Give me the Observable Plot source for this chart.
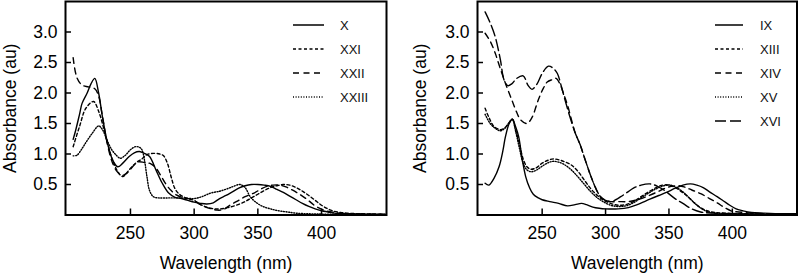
<!DOCTYPE html>
<html><head><meta charset="utf-8">
<script src="https://cdn.jsdelivr.net/npm/d3@7"></script>
<script src="https://cdn.jsdelivr.net/npm/@observablehq/plot@0.6"></script>
<style>
body{margin:0;background:#fff;}
#wrap{position:relative;width:799px;height:273px;display:flex;}
.panel{position:relative;}
.legend{position:absolute;left:0;top:0;pointer-events:none;}
</style></head>
<body><div id="wrap"></div>
<script>
// ---------- data (wavelength nm, absorbance au) ----------
const xTicks = [250, 300, 350, 400];
const yTicks = [0.5, 1.0, 1.5, 2.0, 2.5, 3.0];
const xLabel = "Wavelength (nm)";
const yLabel = "Absorbance (au)";

// left panel
const leftNames = ["X", "XXI", "XXII", "XXIII"];
const X = [[205,1.24],[207,1.39],[210,1.65],[212,1.83],[216,2.0],[219,2.15],[222,2.24],[225,2.0],[228,1.61],[232,1.18],[236,0.9],[240,0.79],[244,0.85],[249,0.96],[253,1.02],[257,1.04],[261,1.01],[265,0.96],[270,0.74],[275,0.52],[280,0.36],[285,0.29],[290,0.27],[295,0.24],[300,0.21],[305,0.19],[310,0.18],[315,0.2],[320,0.27],[325,0.32],[330,0.38],[335,0.44],[340,0.48],[345,0.5],[350,0.5],[355,0.49],[360,0.47],[365,0.42],[370,0.37],[375,0.31],[380,0.25],[385,0.19],[390,0.14],[395,0.1],[400,0.07],[405,0.05],[410,0.03],[420,0.02],[435,0.015],[450,0.01]];
const XXI = [[205,1.12],[210,1.45],[215,1.75],[221,1.86],[225,1.7],[228,1.5],[231,1.25],[236,0.9],[241,0.68],[244,0.63],[249,0.74],[254,0.85],[259,0.92],[263,0.99],[268,1.01],[273,1.0],[276,0.97],[279,0.85],[282,0.62],[285,0.43],[289,0.33],[295,0.27],[300,0.24],[305,0.17],[313,0.11],[320,0.1],[326,0.12],[333,0.16],[340,0.22],[345,0.28],[350,0.34],[355,0.4],[360,0.45],[365,0.48],[370,0.5],[375,0.49],[380,0.45],[385,0.39],[390,0.32],[395,0.24],[400,0.16],[405,0.1],[410,0.06],[415,0.04],[420,0.03],[430,0.02],[450,0.01]];
const XXII = [[205,2.58],[208,2.25],[212,2.13],[217,2.1],[222,2.07],[225,1.95],[228,1.62],[232,1.15],[236,0.85],[240,0.7],[244,0.65],[248,0.7],[252,0.8],[256,0.87],[261,0.86],[266,0.84],[270,0.77],[274,0.64],[278,0.5],[282,0.4],[286,0.33],[292,0.28],[299,0.25],[305,0.17],[312,0.11],[318,0.08],[323,0.09],[328,0.16],[335,0.24],[340,0.3],[347,0.36],[352,0.42],[357,0.47],[362,0.49],[367,0.49],[372,0.46],[377,0.41],[382,0.35],[389,0.25],[395,0.15],[402,0.08],[408,0.05],[415,0.03],[425,0.02],[450,0.01]];
const XXIII = [[205,0.97],[208,0.98],[212,1.09],[216,1.22],[220,1.34],[225,1.46],[228,1.4],[231,1.26],[235,1.08],[238,1.0],[242,0.93],[246,0.98],[250,1.07],[254,1.12],[257,1.11],[259,1.07],[261,0.9],[263,0.62],[265,0.4],[268,0.3],[272,0.28],[280,0.28],[290,0.28],[300,0.27],[306,0.3],[313,0.36],[320,0.39],[326,0.43],[331,0.47],[336,0.5],[340,0.45],[344,0.3],[349,0.2],[354,0.14],[360,0.1],[366,0.07],[373,0.05],[380,0.03],[390,0.02],[400,0.015],[450,0.01]];

// right panel
const rightNames = ["IX", "XIII", "XIV", "XV", "XVI"];
const IX = [[205,0.52],[208,0.49],[212,0.6],[216,0.79],[219,1.05],[221,1.28],[224,1.5],[226.5,1.57],[229,1.45],[231.5,1.28],[234,0.95],[237,0.63],[240,0.45],[243,0.34],[247,0.28],[250,0.25],[256,0.22],[263,0.19],[270,0.15],[276,0.17],[281,0.19],[285,0.17],[290,0.13],[295,0.11],[300,0.1],[310,0.1],[318,0.12],[325,0.17],[335,0.26],[342,0.32],[348,0.37],[355,0.44],[361,0.49],[367,0.51],[372,0.49],[377,0.45],[382,0.38],[388,0.3],[393,0.23],[398,0.16],[403,0.1],[408,0.07],[415,0.04],[425,0.03],[440,0.02],[450,0.02]];
const XIII = [[205,1.75],[208,1.6],[212,1.45],[217,1.4],[220,1.42],[223.5,1.5],[226.5,1.57],[229,1.4],[232,1.17],[235,0.92],[238,0.79],[241,0.75],[245,0.77],[250,0.85],[255,0.9],[259,0.92],[264,0.9],[268,0.87],[273,0.82],[278,0.72],[283,0.58],[288,0.44],[293,0.33],[298,0.25],[304,0.19],[310,0.16],[316,0.17],[322,0.22],[328,0.3],[334,0.38],[340,0.45],[345,0.49],[350,0.49],[355,0.45],[360,0.38],[365,0.3],[370,0.2],[375,0.12],[380,0.07],[386,0.04],[395,0.03],[410,0.02],[450,0.02]];
const XIV = [[205,2.98],[209,2.85],[213,2.65],[217,2.4],[221,2.16],[226,1.89],[230,1.68],[233,1.56],[238,1.5],[242,1.6],[247,1.89],[251,2.08],[254,2.18],[258,2.22],[261,2.24],[264,2.15],[267,1.98],[270,1.8],[273,1.57],[276,1.35],[280,1.15],[284,0.9],[288,0.66],[292,0.45],[296,0.3],[300,0.24],[304,0.22],[310,0.22],[318,0.22],[325,0.25],[332,0.3],[340,0.37],[346,0.43],[352,0.47],[357,0.48],[362,0.46],[368,0.41],[375,0.35],[382,0.27],[388,0.2],[394,0.12],[400,0.06],[405,0.05],[415,0.03],[430,0.02],[450,0.02]];
const XV = [[205,1.65],[209,1.5],[213,1.42],[217,1.38],[221,1.43],[224,1.52],[226.5,1.57],[229,1.38],[232,1.1],[235,0.85],[238,0.74],[241,0.71],[245,0.73],[250,0.8],[255,0.86],[259,0.88],[264,0.86],[268,0.82],[273,0.74],[278,0.63],[283,0.51],[288,0.39],[293,0.29],[298,0.22],[304,0.16],[310,0.14],[316,0.15],[322,0.2],[328,0.28],[334,0.36],[340,0.43],[346,0.48],[351,0.49],[356,0.45],[361,0.38],[366,0.28],[371,0.18],[376,0.1],[381,0.05],[388,0.03],[400,0.02],[450,0.01]];
const XVI = [[205,3.33],[209,3.15],[213,2.92],[217,2.55],[220,2.21],[223,2.12],[226,2.15],[230,2.24],[235,2.28],[239,2.12],[242,2.06],[246,2.15],[250,2.32],[255,2.44],[259,2.4],[262,2.32],[265,2.12],[268,1.89],[272,1.6],[276,1.35],[280,1.15],[284,0.9],[288,0.66],[292,0.45],[296,0.3],[300,0.24],[304,0.22],[308,0.25],[312,0.3],[317,0.37],[322,0.44],[328,0.49],[335,0.51],[341,0.47],[348,0.38],[354,0.28],[361,0.19],[368,0.1],[375,0.05],[385,0.03],[400,0.02],[450,0.02]];

// ---------- styling ----------
const dashes = {
  X: null, XXI: "3,2.5", XXII: "6,4.5", XXIII: "1,1.6",
  IX: null, XIII: "3,2.5", XIV: "6,4.5", XV: "1,1.6", XVI: "11,4"
};
const FONT = "'Liberation Sans', Arial, Helvetica, sans-serif";
const X0 = 199, X1 = 451, Y0 = 0, Y1 = 3.5;

function panel({series, names, width, marginLeft, marginRight, yLabelOffset, legendX, textX}) {
  const div = document.createElement("div");
  div.className = "panel";
  div.style.width = width + "px";
  div.style.height = "273px";
  const plotH = 273 - 1 - 58.5;
  const plotW = width - marginLeft - marginRight;
  const tickLen = 6;
  const marks = [
    Plot.axisX({ticks: xTicks, tickSize: 0, tickPadding: 12, label: xLabel, labelAnchor: "center", labelArrow: "none", labelOffset: 54}),
    Plot.axisY({ticks: yTicks, tickSize: 0, tickPadding: 8, tickFormat: d3.format(".1f"), label: yLabel, labelAnchor: "center", labelArrow: "none", labelOffset: yLabelOffset}),
    // inward tick marks
    Plot.ruleX(xTicks, {y1: Y0, y2: Y0 + tickLen * (Y1 - Y0) / plotH, stroke: "#000", strokeWidth: 1.5}),
    Plot.ruleY(yTicks, {x1: X0, x2: X0 + tickLen * (X1 - X0) / plotW, stroke: "#000", strokeWidth: 1.5}),
  ];
  names.forEach((n, i) => {
    marks.push(Plot.line(series[i], {x: d => d[0], y: d => d[1], stroke: "#000", strokeWidth: 1.4, strokeDasharray: dashes[n], curve: "catmull-rom"}));
  });
  marks.push(Plot.frame({stroke: "#000", strokeWidth: 2}));
  const p = Plot.plot({
    width, height: 273,
    marginLeft, marginRight, marginTop: 1, marginBottom: 58.5,
    x: {domain: [X0, X1]},
    y: {domain: [Y0, Y1]},
    style: {fontFamily: FONT, fontSize: "17.5px", color: "#000", background: "transparent"},
    marks
  });
  div.appendChild(p);
  // legend
  const svg = d3.create("svg").attr("class", "legend").attr("width", width).attr("height", 273);
  names.forEach((n, i) => {
    const y = 25 + i * 24;
    svg.append("line").attr("x1", legendX[0]).attr("x2", legendX[1]).attr("y1", y).attr("y2", y)
      .attr("stroke", "#000").attr("stroke-width", 1.5).attr("stroke-dasharray", dashes[n]);
    svg.append("text").attr("x", textX).attr("y", y).attr("dy", "0.36em")
      .attr("font-family", FONT).attr("font-size", "13px").attr("fill", "#111").text(n);
  });
  div.appendChild(svg.node());
  return div;
}

const wrap = document.getElementById("wrap");
wrap.appendChild(panel({series: [X, XXI, XXII, XXIII], names: leftNames, width: 400, marginLeft: 65, marginRight: 14, yLabelOffset: 62, legendX: [293, 324], textX: 340}));
wrap.appendChild(panel({series: [IX, XIII, XIV, XV, XVI], names: rightNames, width: 399, marginLeft: 77, marginRight: 2.5, yLabelOffset: 64, legendX: [315, 343], textX: 360}));
</script>
</body></html>
